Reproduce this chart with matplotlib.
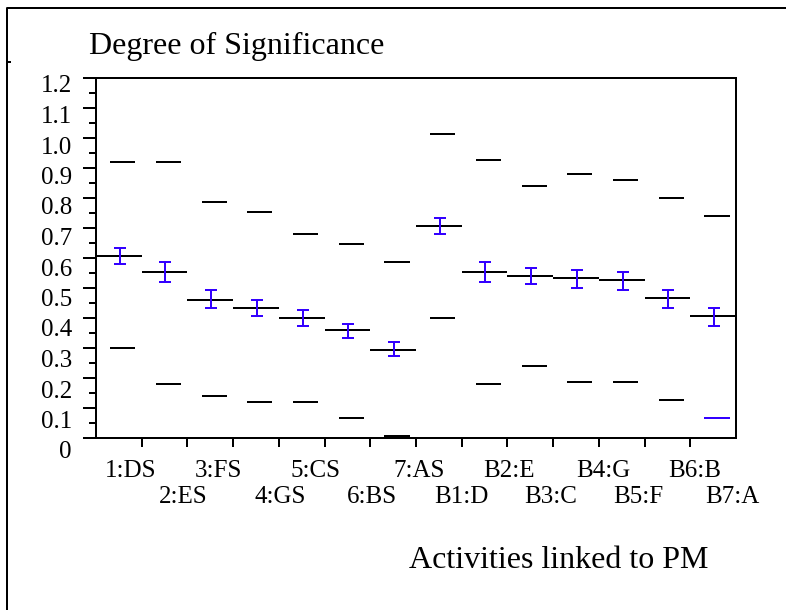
import numpy as np
import matplotlib
matplotlib.use("Agg")
import matplotlib.pyplot as plt
from matplotlib.lines import Line2D

plt.rcParams['font.family'] = ['Liberation Serif', 'DejaVu Serif']

# data
activities = ['1:DS', '2:ES', '3:FS', '4:GS', '5:CS', '6:BS', '7:AS',
              'B1:D', 'B2:E', 'B3:C', 'B4:G', 'B5:F', 'B6:B', 'B7:A']
means = [0.607, 0.554, 0.460, 0.433, 0.400, 0.360, 0.293,
         0.707, 0.553, 0.539, 0.532, 0.527, 0.467, 0.406]
ci_high = [0.632, 0.587, 0.493, 0.460, 0.427, 0.379, 0.320,
           0.734, 0.587, 0.567, 0.560, 0.553, 0.493, 0.433]
ci_low = [0.581, 0.520, 0.432, 0.406, 0.372, 0.333, 0.272,
          0.680, 0.520, 0.512, 0.499, 0.493, 0.432, 0.372]
upper = [0.921, 0.921, 0.788, 0.752, 0.681, 0.648, 0.587,
         1.012, 0.927, 0.841, 0.880, 0.859, 0.800, 0.740]
lower = [0.301, 0.181, 0.140, 0.121, 0.121, 0.067, 0.007,
         0.400, 0.180, 0.240, 0.186, 0.186, 0.126, 0.067]
y_ticks = [0.0, 0.1, 0.2, 0.3, 0.4, 0.5, 0.6, 0.7, 0.8, 0.9, 1.0, 1.1, 1.2]
y_ticklabels = ['0', '0.1', '0.2', '0.3', '0.4', '0.5', '0.6',
                '0.7', '0.8', '0.9', '1.0', '1.1', '1.2']

# layout: horizontal nudge of each category label (pixels)
label_dx = [12, 19, 8, 24, 14, 25, 26, 23, 24, 20, 27, 17, 27, 19]

BLUE = '#3300ff'
LW = 1.44

fig = plt.figure(figsize=(7.86, 6.10), dpi=100)
ax = fig.add_axes([96 / 786, 1 - 438 / 610, 640 / 786, 360 / 610])

n = len(activities)
x = np.arange(n)

# group means across the whole cell
ax.hlines(means, x, x + 1, color='black', linewidth=LW, zorder=2)

# upper / lower limits
lim_colors = ['black'] * n
lim_colors_low = ['black'] * (n - 1) + [BLUE]
ax.hlines(upper, x + 0.31, x + 0.86, colors=lim_colors, linewidth=LW, zorder=2)
ax.hlines(lower, x + 0.31, x + 0.86, colors=lim_colors_low, linewidth=LW, zorder=2)

# error bars
m = np.array(means)
yerr = [m - np.array(ci_low), np.array(ci_high) - m]
ax.errorbar(x + 0.52, m, yerr=yerr, fmt='none', ecolor=BLUE,
            elinewidth=LW, capsize=4.6, capthick=LW, zorder=3)

ax.set_xlim(0, n)
ax.set_ylim(0, 1.2)

for sp in ax.spines.values():
    sp.set_linewidth(LW)

ax.set_yticks(y_ticks)
ax.set_yticks(np.arange(0.05, 1.2, 0.1), minor=True)
ax.set_yticklabels([])
ax.tick_params(axis='y', which='major', direction='out', length=9.4, width=LW)
ax.tick_params(axis='y', which='minor', direction='out', length=5.0, width=LW)

ax.set_xticks(np.arange(1, n))
ax.set_xticklabels([])
ax.tick_params(axis='x', which='major', direction='out', length=6.5, width=LW)

# y tick labels, drawn slightly below each tick as in the original
for i, (v, lab) in enumerate(zip(y_ticks, y_ticklabels)):
    steps = 12 - i
    ax.annotate(lab, xy=(0, v), xycoords=('axes fraction', 'data'),
                xytext=(-24, -(14.5 + 0.5 * steps)), textcoords='offset pixels',
                ha='right', va='baseline', fontsize=18)

# staggered category labels
for i, lab in enumerate(activities):
    dy = -39 if i % 2 == 0 else -65
    ax.annotate(lab, xy=(i + 0.5, 0), xycoords=('data', 'axes fraction'),
                xytext=(label_dx[i], dy), textcoords='offset pixels',
                ha='center', va='baseline', fontsize=18)

fig.text(89 / 786, 1 - 54 / 610, 'Degree of Significance', fontsize=23,
         ha='left', va='baseline')
fig.text(409 / 786, 1 - 568 / 610, 'Activities linked to PM', fontsize=23,
         ha='left', va='baseline')

# outer frame (only left and top edges visible)
fig.add_artist(Line2D([7 / 786, 7 / 786, 1.0], [0.0, 1 - 8 / 610, 1 - 8 / 610],
                      transform=fig.transFigure, color='black', linewidth=LW))
fig.add_artist(Line2D([7 / 786, 10 / 786], [1 - 62 / 610, 1 - 62 / 610],
                      transform=fig.transFigure, color='black', linewidth=LW))

fig.savefig('out.png', dpi=100)
